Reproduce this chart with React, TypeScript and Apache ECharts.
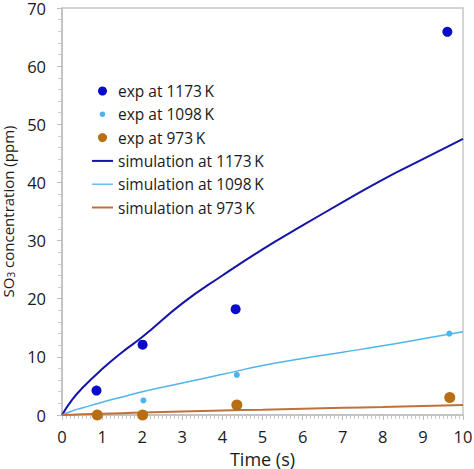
import React, { useEffect, useRef } from "react";
import * as echarts from "echarts";

const expTime1173 = [0.86, 2.01, 4.33, 9.61];
const exp1173 = [4.2, 12.1, 18.2, 65.9];
const expTime1098 = [2.03, 4.36, 9.66];
const exp1098 = [2.5, 6.9, 14.0];
const expTime973 = [0.88, 2.01, 4.36, 9.67];
const exp973 = [0.0, 0.0, 1.7, 3.0];

const simTime = [0, 0.25, 0.5, 1, 1.5, 2, 3, 4, 5, 6, 7, 8, 9, 10];
const sim1173 = [0, 2.6, 4.6, 7.9, 10.8, 13.4, 19.2, 24.0, 28.5, 32.6, 36.6, 40.5, 44.0, 47.5];
const sim1098 = [0, 0.7, 1.2, 2.2, 3.1, 4.0, 5.5, 7.0, 8.5, 9.7, 10.8, 11.9, 13.1, 14.3];
const sim973 = [0, 0.06, 0.12, 0.22, 0.32, 0.42, 0.6, 0.76, 0.92, 1.08, 1.23, 1.38, 1.55, 1.72];

const names = [
  "exp at 1173\u2009K",
  "exp at 1098\u2009K",
  "exp at 973\u2009K",
  "simulation at 1173\u2009K",
  "simulation at 1098\u2009K",
  "simulation at 973\u2009K",
];

const zip = (xs: number[], ys: number[]) => xs.map((x, i) => [x, ys[i]]);

const FONT = "Open Sans";
const TXT = "#1a1a1a";
const LINE_ICON = "path://M0,0h21v2h-21z";

export default function App() {
  const ref = useRef<HTMLDivElement>(null);
  useEffect(() => {
    if (!ref.current) return;
    const chart = echarts.init(ref.current, undefined, { renderer: "svg" });
    chart.setOption({
      animation: false,
      backgroundColor: "#ffffff",
      textStyle: { fontFamily: FONT },
      grid: {
        left: 62,
        right: 11,
        top: 8,
        bottom: 54,
        show: true,
        borderColor: "#c8c8c8",
        borderWidth: 1.5,
        outerBoundsMode: "none",
        containLabel: false,
      },
      legend: {
        orient: "vertical",
        left: 92,
        top: 81,
        padding: 0,
        itemWidth: 21,
        itemHeight: 9,
        itemGap: 3.3,
        textStyle: { fontFamily: FONT, fontSize: 15.5, color: TXT, lineHeight: 20 },
        data: [
          { name: names[0], icon: "circle" },
          { name: names[1], icon: "path://M0,0M10,10M2,5a3,3 0 1,0 6,0a3,3 0 1,0 -6,0z" },
          { name: names[2], icon: "circle" },
          { name: names[3], icon: LINE_ICON },
          { name: names[4], icon: "path://M0,0h21v1.3h-21z" },
          { name: names[5], icon: LINE_ICON },
        ],
      },
      xAxis: {
        type: "value",
        min: 0,
        max: 10,
        interval: 1,
        name: "Time (s)",
        nameLocation: "middle",
        nameGap: 32,
        nameTextStyle: { fontFamily: FONT, fontSize: 18, color: TXT },
        axisLine: { show: true, lineStyle: { color: "#bdbdbd", width: 1.5 } },
        axisTick: { show: true, length: 5, lineStyle: { color: "#bdbdbd" } },
        minorTick: { show: true, splitNumber: 10, length: 4, lineStyle: { color: "#c8c8c8" } },
        axisLabel: { fontFamily: FONT, fontSize: 16.5, color: TXT, margin: 13 },
        splitLine: { show: false },
      },
      yAxis: {
        type: "value",
        min: 0,
        max: 70,
        interval: 10,
        name: "SO{sub|3} concentration (ppm)",
        nameLocation: "middle",
        nameGap: 43,
        nameTextStyle: {
          fontFamily: FONT,
          fontSize: 15,
          color: TXT,
          rich: {
            sub: { fontFamily: FONT, fontSize: 10, color: TXT, verticalAlign: "bottom", padding: [7, 0, 0, 0] },
          },
        },
        axisLine: { show: true, lineStyle: { color: "#bdbdbd", width: 1.5 } },
        axisTick: { show: true, length: 5, lineStyle: { color: "#bdbdbd" } },
        minorTick: { show: true, splitNumber: 5, length: 4, lineStyle: { color: "#c8c8c8" } },
        axisLabel: { fontFamily: FONT, fontSize: 16.5, color: TXT, margin: 16, lineHeight: 16 },
        splitLine: { show: false },
      },
      series: [
        {
          name: names[3],
          type: "line",
          data: zip(simTime, sim1173),
          smooth: true,
          symbol: "none",
          lineStyle: { color: "#1414a6", width: 2 },
          itemStyle: { color: "#1414a6" },
          z: 2,
        },
        {
          name: names[4],
          type: "line",
          data: zip(simTime, sim1098),
          smooth: true,
          symbol: "none",
          lineStyle: { color: "#4fb6ea", width: 1.5 },
          itemStyle: { color: "#4fb6ea" },
          z: 2,
        },
        {
          name: names[5],
          type: "line",
          data: zip(simTime, sim973),
          smooth: true,
          symbol: "none",
          lineStyle: { color: "#c0703a", width: 2 },
          itemStyle: { color: "#c0703a" },
          z: 2,
        },
        {
          name: names[0],
          type: "scatter",
          data: zip(expTime1173, exp1173),
          symbol: "circle",
          symbolSize: 10,
          itemStyle: { color: "#0a0acc", opacity: 1 },
          z: 3,
        },
        {
          name: names[1],
          type: "scatter",
          data: zip(expTime1098, exp1098),
          symbol: "circle",
          symbolSize: 6,
          itemStyle: { color: "#4cb5ee", opacity: 1 },
          z: 3,
        },
        {
          name: names[2],
          type: "scatter",
          data: zip(expTime973, exp973),
          symbol: "circle",
          symbolSize: 11,
          itemStyle: { color: "#b86e12", opacity: 1 },
          z: 3,
        },
      ],
    });
    return () => chart.dispose();
  }, []);
  return <div ref={ref} style={{ width: 474, height: 469, position: "absolute", left: 0, top: 0 }} />;
}
